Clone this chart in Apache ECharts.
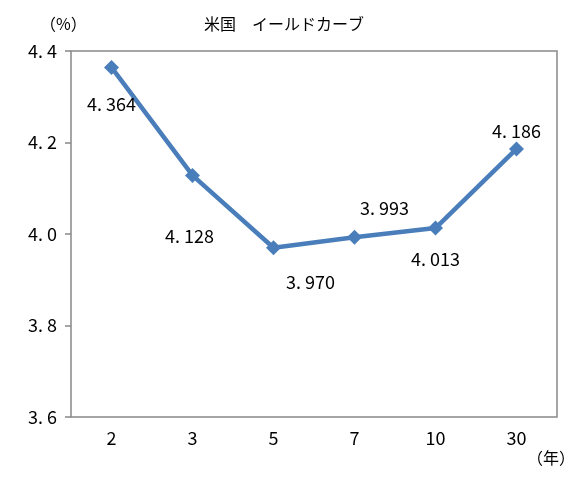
<!DOCTYPE html>
<html><head><meta charset="utf-8">
<script src="https://cdn.jsdelivr.net/npm/echarts@6/dist/echarts.min.js"></script>
<style>html,body{margin:0;padding:0;background:#fff}#c{width:578px;height:493px}</style>
</head><body><div id="c"></div>
<script>
const categories = ['2', '3', '5', '7', '10', '30'];
const yields = [4.364, 4.128, 3.970, 3.993, 4.013, 4.186];
const yTicks = [3.6, 3.8, 4.0, 4.2, 4.4];
const titleText = '米国　イールドカーブ';
const yUnit = '（%）';
const xUnit = '（年）';

const labelOffsets = [[0, 37], [-3, 61], [37, 34], [30, -29], [0, 31], [0, -18]];
const numFont = "'Noto Sans CJK JP', sans-serif";

const chart = echarts.init(document.getElementById('c'));
chart.setOption({
  animation: false,
  backgroundColor: '#fff',
  title: {
    text: titleText, left: 279, top: 11, textAlign: 'center',
    textStyle: {fontFamily: "'Noto Sans CJK JP', sans-serif", fontSize: 16, fontWeight: 'normal', color: '#000'}
  },
  graphic: [
    {type: 'text', left: 40, top: 16, style: {text: yUnit, font: "16px 'Noto Sans CJK JP', sans-serif", fill: '#000'}},
    {type: 'text', left: 527, top: 450, style: {text: xUnit, font: "16px 'Noto Sans CJK JP', sans-serif", fill: '#000'}}
  ],
  grid: {left: 71, right: 21, top: 51, bottom: 76, show: true, borderColor: '#888', borderWidth: 1.5},
  xAxis: {
    type: 'category', data: categories, boundaryGap: true,
    axisLine: {show: false}, axisTick: {show: false},
    axisLabel: {margin: 12, fontSize: 18, color: '#000', fontFamily: numFont}
  },
  yAxis: {
    type: 'value', min: yTicks[0], max: yTicks[yTicks.length - 1], interval: 0.2,
    splitLine: {show: false},
    axisLine: {show: false},
    axisTick: {show: true, length: 6, lineStyle: {color: '#888', width: 1.5}},
    axisLabel: {margin: 14, fontSize: 18, color: '#000', fontFamily: numFont,
      formatter: v => v.toFixed(1).replace('.', '. ')}
  },
  series: [{
    type: 'line', data: yields.map((v, i) => ({
      value: v,
      label: {offset: labelOffsets[i]}
    })),
    symbol: 'diamond', symbolSize: 15,
    lineStyle: {color: '#4a7ebb', width: 4.5},
    itemStyle: {color: '#4a7ebb'},
    label: {show: true, position: 'inside', fontSize: 18, color: '#000', fontFamily: numFont,
      formatter: p => p.value.toFixed(3).replace('.', '. ')}
  }]
});
</script></body></html>
